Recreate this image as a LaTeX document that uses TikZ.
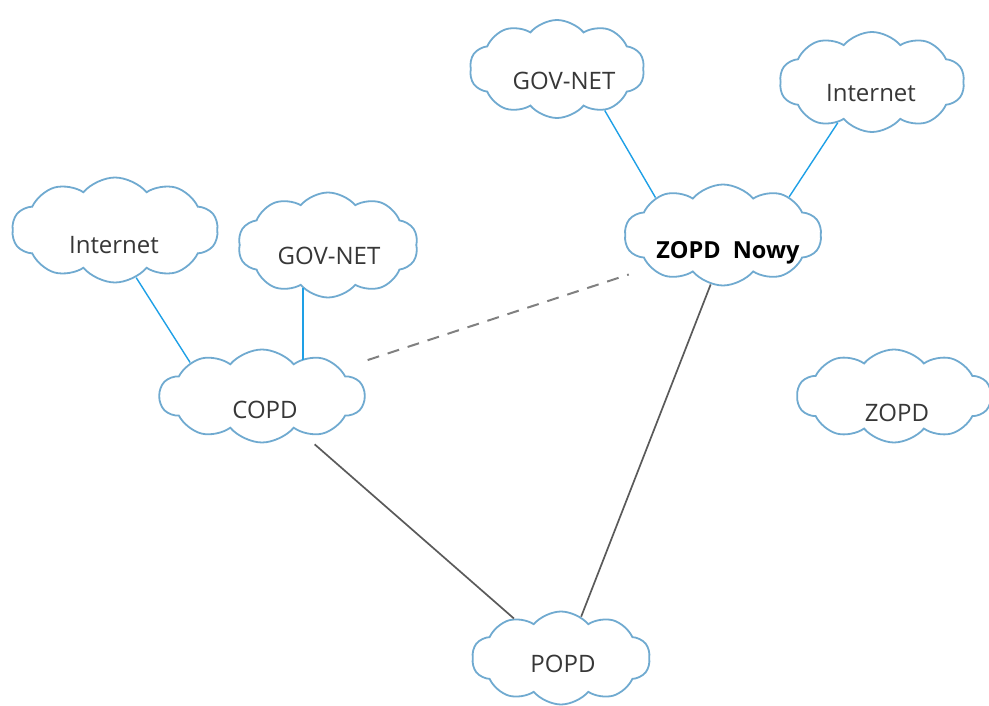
\documentclass[tikz,border=0pt]{standalone}
\usepackage{fontspec}
\setmainfont{Open Sans}
\usetikzlibrary{shapes.symbols,calc}
\definecolor{cloudline}{RGB}{112,170,208}
\definecolor{netline}{RGB}{30,160,230}
\definecolor{linkgray}{RGB}{90,90,90}
\definecolor{txt}{RGB}{55,55,55}
\tikzset{
  netcloud/.style={cloud, cloud puffs=10, cloud puff arc=100, cloud ignores aspect,
    draw=cloudline, line width=1.8pt, fill=white, inner sep=0pt},
  cloudtext/.style={text=txt, font=\fontsize{24}{28}\selectfont},
  netlink/.style={draw=netline, line width=1.4pt},
  graylink/.style={draw=linkgray, line width=1.7pt},
  dashlink/.style={draw=gray, line width=2pt, dash pattern=on 12pt off 9pt}
}
\begin{document}
\begin{tikzpicture}[x=1pt,y=-1pt]
\useasboundingbox (0,0) rectangle (989,706);
% clouds
\node[netcloud, minimum width=175pt, minimum height=98pt] (govA) at (557,69) {};
\node[cloudtext] at (564,81) {GOV-NET};
\node[netcloud, minimum width=185pt, minimum height=100pt] (inetA) at (872,82) {};
\node[cloudtext] at (871,93) {Internet};
\node[netcloud, minimum width=206pt, minimum height=105pt] (inetB) at (115,230) {};
\node[cloudtext] at (114,245) {Internet};
\node[netcloud, minimum width=180pt, minimum height=105pt] (govB) at (328,245) {};
\node[cloudtext] at (329,256) {GOV-NET};
\node[netcloud, minimum width=197pt, minimum height=101pt] (zopdn) at (723,235) {};
\node[cloudtext, font=\fontsize{23.5}{27}\selectfont\bfseries, text=black] at (728,253) {ZOPD\ \ Nowy};
\node[netcloud, minimum width=205pt, minimum height=93pt] (copd) at (262,396) {};
\node[cloudtext] at (265,410) {COPD};
\node[netcloud, minimum width=194pt, minimum height=93pt] (zopd) at (894,396) {};
\node[cloudtext] at (897,413) {ZOPD};
\node[netcloud, minimum width=178pt, minimum height=93pt] (popd) at (561,658) {};
\node[cloudtext] at (563,664) {POPD};
% links
\draw[netlink] (govA.-41) -- (zopdn.151);
\draw[netlink] (inetA.-130) -- (zopdn.30);
\draw[netlink] (inetB.-66) -- (copd.155);
\draw[netlink] (govB.-120) -- (govB.-120 |- copd.52);
\draw[dashlink, shorten <=28pt, shorten >=22pt] (copd.19) -- (zopdn.-156);
\draw[graylink, shorten <=17pt] (copd.-43) -- (popd.140);
\draw[graylink] (zopdn.-104) -- (popd.64);
\end{tikzpicture}
\end{document}
